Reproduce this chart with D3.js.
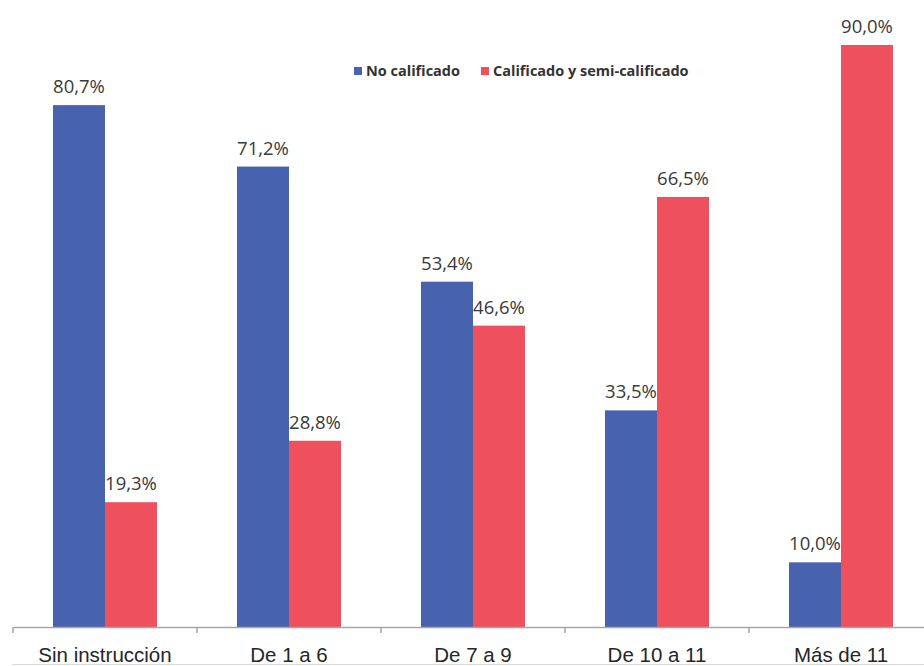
<!DOCTYPE html>
<html>
<head>
<meta charset="utf-8">
<script src="https://cdn.jsdelivr.net/npm/d3@7"></script>
<style>
  body { margin: 0; background: #fff; }
  svg { display: block; font-family: "Open Sans", "Liberation Sans", sans-serif; }
</style>
</head>
<body>
<div id="chart"></div>
<script>
const categories = ["Sin instrucción", "De 1 a 6", "De 7 a 9", "De 10 a 11", "Más de 11"];
const series = ["No calificado", "Calificado y semi-calificado"];
const noCalificado = [80.7, 71.2, 53.4, 33.5, 10.0];
const calificado = [19.3, 28.8, 46.6, 66.5, 90.0];
const colors = ["#4863ad", "#ef505d"];

const width = 924;
const height = 666;
const margin = { top: 45, right: -9, bottom: 39, left: 13 };

const rows = categories.map((c, i) => ({
  cat: c,
  values: [noCalificado[i], calificado[i]],
}));

const svg = d3
  .select("#chart")
  .append("svg")
  .attr("width", width)
  .attr("height", height);

const x0 = d3
  .scaleBand()
  .domain(categories)
  .range([margin.left, width - margin.right])
  .paddingInner(0)
  .paddingOuter(0);

const x1 = d3
  .scaleBand()
  .domain(series)
  .range([x0.bandwidth() / 2 - 52, x0.bandwidth() / 2 + 52]);

const y = d3
  .scaleLinear()
  .domain([0, 90])
  .range([height - margin.bottom, margin.top]);

const fmt = (v) => v.toFixed(1).replace(".", ",") + "%";

// bars
const groups = svg
  .append("g")
  .selectAll("g")
  .data(rows)
  .join("g")
  .attr("transform", (d) => `translate(${x0(d.cat)},0)`);

groups
  .selectAll("rect")
  .data((d) => d.values.map((v, i) => ({ key: series[i], v, i })))
  .join("rect")
  .attr("x", (d) => x1(d.key))
  .attr("width", x1.bandwidth())
  .attr("y", (d) => y(d.v))
  .attr("height", (d) => y(0) - y(d.v))
  .attr("fill", (d) => colors[d.i]);

groups
  .selectAll("text")
  .data((d) => d.values.map((v, i) => ({ key: series[i], v, i })))
  .join("text")
  .attr("x", (d) => x1(d.key) + x1.bandwidth() / 2)
  .attr("y", (d) => y(d.v) - 12)
  .attr("text-anchor", "middle")
  .attr("font-size", 18.5)
  .attr("fill", "#3a3a3a")
  .text((d) => fmt(d.v));

// x axis
const xAxis = d3.axisBottom(x0).tickSize(0).tickSizeOuter(0);
const axisG = svg
  .append("g")
  .attr("transform", `translate(0,${y(0)})`)
  .call(xAxis);
axisG.select(".domain").attr("stroke", "#a6a6a6").attr("stroke-width", 1.5);
axisG
  .selectAll(".tick text")
  .attr("dy", 0)
  .attr("y", 35)
  .attr("font-size", 20.5)
  .attr("fill", "#262626");

// category separators
svg
  .append("g")
  .selectAll("line")
  .data(categories)
  .join("line")
  .attr("x1", (d) => x0(d))
  .attr("x2", (d) => x0(d))
  .attr("y1", y(0))
  .attr("y2", y(0) + 6)
  .attr("stroke", "#a6a6a6")
  .attr("stroke-width", 1.5);

// bottom border
svg
  .append("line")
  .attr("x1", 12)
  .attr("x2", width)
  .attr("y1", height - 1.5)
  .attr("y2", height - 1.5)
  .attr("stroke", "#d9d9d9");

// legend
const legend = svg
  .append("g")
  .selectAll("g")
  .data(series)
  .join("g")
  .attr("transform", (d, i) => `translate(${[354, 481][i]},${67})`);

legend
  .append("rect")
  .attr("width", 8)
  .attr("height", 8)
  .attr("fill", (d, i) => colors[i]);

legend
  .append("text")
  .attr("x", 12)
  .attr("y", 9)
  .attr("font-size", 14.5)
  .attr("font-weight", "bold")
  .attr("fill", "#333")
  .text((d) => d);
</script>
</body>
</html>
